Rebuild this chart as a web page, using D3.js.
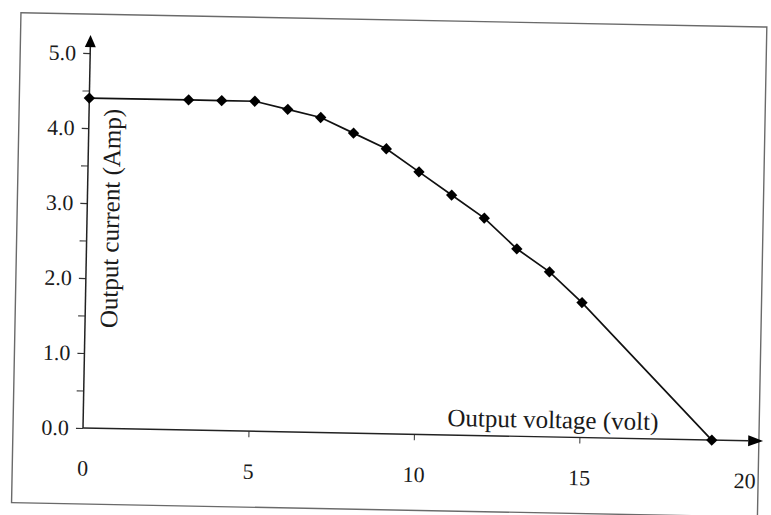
<!DOCTYPE html>
<html><head><meta charset="utf-8">
<script src="https://cdn.jsdelivr.net/npm/d3@7"></script>
<style>body{margin:0;background:#fff}svg{display:block}</style></head><body>
<script>
const voltage=[0,3,4,5,6,7,8,9,10,11,12,13,14,15,19];
const current=[4.4,4.4,4.4,4.4,4.3,4.2,4.0,3.8,3.5,3.2,2.9,2.5,2.2,1.8,0];
const xTicks=[0,5,10,15,20];
const yTicks=[0,1,2,3,4,5];
const yMinorTicks=[0.5,1.5,2.5,3.5,4.5];
const xTitle="Output voltage (volt)";
const yTitle="Output current (Amp)";

const W=771,H=515;
const svg=d3.select("body").append("svg").attr("width",W).attr("height",H);
svg.append("rect").attr("width",W).attr("height",H).attr("fill","#fff");
const g=svg.append("g").attr("transform","translate(83,428) rotate(1.1)");
const x=d3.scaleLinear().domain([0,20]).range([0,662]);
const y=d3.scaleLinear().domain([0,5]).range([0,-375]);
const font="'Liberation Serif','Times New Roman',serif";

// frame
g.append("rect").attr("x",-70).attr("y",-414).attr("width",746).attr("height",490)
 .attr("fill","none").attr("stroke","#6a6a6a").attr("stroke-width",1.4);

// y axis ticks
const yAxis=d3.axisLeft(y).tickValues(yTicks).tickFormat(d3.format(".1f")).tickSize(7).tickPadding(7);
const ya=g.append("g").call(yAxis);
ya.select(".domain").remove();
ya.selectAll("line").attr("stroke","#333").attr("stroke-width",1.2);
ya.selectAll("text").attr("font-family",font).attr("font-size",22).attr("fill","#1a1a1a");
const ym=g.append("g").call(d3.axisLeft(y).tickValues(yMinorTicks).tickFormat("").tickSize(7));
ym.select(".domain").remove();
ym.selectAll("line").attr("stroke","#444").attr("stroke-width",1.1);

// x axis ticks
const xAxis=d3.axisBottom(x).tickValues(xTicks).tickSize(6).tickPadding(26);
const xa=g.append("g").call(xAxis);
xa.select(".domain").remove();
xa.selectAll(".tick line").attr("stroke","#444").attr("stroke-width",1.1)
  .attr("opacity",(d)=> (d===0||d===20)?0:1);
xa.selectAll("text").attr("font-family",font).attr("font-size",22).attr("fill","#1a1a1a");

// axis lines with arrows
g.append("line").attr("x1",x(0)).attr("y1",y(0)).attr("x2",x(20.1)).attr("y2",y(0))
 .attr("stroke","#222").attr("stroke-width",1.4);
g.append("line").attr("x1",x(0)).attr("y1",y(0)).attr("x2",x(0)).attr("y2",y(5.1))
 .attr("stroke","#222").attr("stroke-width",1.5);
g.append("path").attr("d",`M${x(20.55)},${y(0)}L${x(20.1)},${y(0)-5.5}L${x(20.1)},${y(0)+5.5}Z`).attr("fill","#000");
g.append("path").attr("d",`M${x(0)},${y(5.24)}L${x(0)-5.5},${y(5.08)}L${x(0)+5.5},${y(5.08)}Z`).attr("fill","#000");

// titles
g.append("text").attr("x",x(11)).attr("y",y(0)-9).attr("font-family",font).attr("font-size",25)
 .attr("fill","#1a1a1a").text(xTitle);
g.append("text").attr("transform",`translate(${x(0)+32},${y(2.8)}) rotate(-90)`).attr("text-anchor","middle")
 .attr("font-family",font).attr("font-size",25).attr("fill","#1a1a1a").text(yTitle);

// data
const pts=voltage.map((v,i)=>[v,current[i]]);
g.append("path").datum(pts).attr("fill","none").attr("stroke","#111").attr("stroke-width",1.7)
 .attr("d",d3.line().x(d=>x(d[0])).y(d=>y(d[1])));
g.selectAll(".pt").data(pts).enter().append("path").attr("class","pt")
 .attr("transform",d=>`translate(${x(d[0])},${y(d[1])}) rotate(45)`)
 .attr("d",d3.symbol(d3.symbolSquare,64)).attr("fill","#000");
</script></body></html>
